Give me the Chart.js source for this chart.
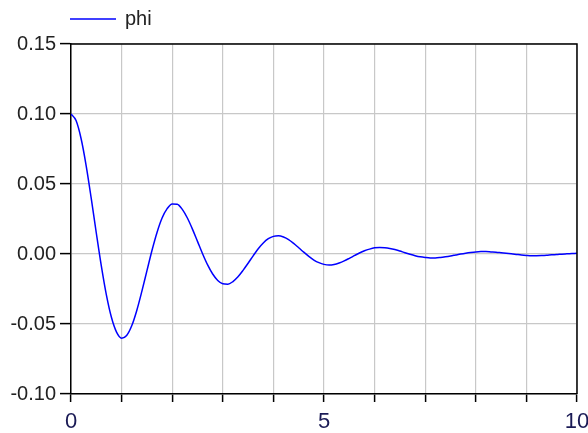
<!DOCTYPE html>
<html>
<head>
<meta charset="utf-8">
<script src="https://cdn.jsdelivr.net/npm/chart.js@4/dist/chart.umd.min.js"></script>
<style>
html,body{margin:0;padding:0;background:#fff;}
#wrap{width:588px;height:433px;}
</style>
</head>
<body>
<div id="wrap"><canvas id="c" width="588" height="433"></canvas></div>
<script>
const seriesName = "phi";
const times = [0,0.1,0.2,0.3,0.4,0.5,0.6,0.7,0.8,0.9,1,1.1,1.2,1.3,1.4,1.5,1.6,1.7,1.8,1.9,2,2.1,2.2,2.3,2.4,2.5,2.6,2.7,2.8,2.9,3,3.1,3.2,3.3,3.4,3.5,3.6,3.7,3.8,3.9,4,4.1,4.2,4.3,4.4,4.5,4.6,4.7,4.8,4.9,5,5.1,5.2,5.3,5.4,5.5,5.6,5.7,5.8,5.9,6,6.1,6.2,6.3,6.4,6.5,6.6,6.7,6.8,6.9,7,7.1,7.2,7.3,7.4,7.5,7.6,7.7,7.8,7.9,8,8.1,8.2,8.3,8.4,8.5,8.6,8.7,8.8,8.9,9,9.1,9.2,9.3,9.4,9.5,9.6,9.7,9.8,9.9,10];
const phi = [0.1000,0.0953,0.0823,0.0630,0.0397,0.0150,-0.0087,-0.0294,-0.0454,-0.0558,-0.0601,-0.0582,-0.0513,-0.0403,-0.0267,-0.0121,0.0025,0.0154,0.0257,0.0324,0.0358,0.0356,0.0319,0.0257,0.0178,0.0090,0.0002,-0.0078,-0.0143,-0.0189,-0.0213,-0.0216,-0.0197,-0.0163,-0.0117,-0.0066,-0.0013,0.0038,0.0079,0.0109,0.0126,0.0130,0.0121,0.0103,0.0076,0.0045,0.0013,-0.0017,-0.0043,-0.0062,-0.0074,-0.0079,-0.0075,-0.0064,-0.0049,-0.0031,-0.0012,0.0007,0.0023,0.0035,0.0044,0.0047,0.0045,0.0040,0.0032,0.0021,0.0009,-0.0002,-0.0012,-0.0020,-0.0025,-0.0028,-0.0028,-0.0025,-0.0020,-0.0014,-0.0007,0.0000,0.0006,0.0011,0.0015,0.0017,0.0017,0.0015,0.0013,0.0009,0.0005,0.0001,-0.0003,-0.0007,-0.0010,-0.0012,-0.0012,-0.0011,-0.0009,-0.0006,-0.0004,-0.0001,0.0001,0.0003,0.0005];
const xLabeled = [0, 5, 10];
const yMin = -0.10, yMax = 0.15, yStep = 0.05;
const xMin = 0, xMax = 10, xStep = 1;

const FONT = "'Liberation Sans', Arial, sans-serif";

const frameAndLegend = {
  id: 'frameAndLegend',
  afterDraw(chart) {
    const ctx = chart.ctx, a = chart.chartArea;
    ctx.save();
    ctx.strokeStyle = '#000';
    ctx.lineWidth = 1.5;
    ctx.beginPath();
    ctx.moveTo(a.left, a.top); ctx.lineTo(a.right, a.top); ctx.lineTo(a.right, a.bottom);
    ctx.stroke();
    // legend
    ctx.strokeStyle = '#0000ff';
    ctx.lineWidth = 1.5;
    ctx.beginPath();
    ctx.moveTo(70, 19); ctx.lineTo(116, 19);
    ctx.stroke();
    ctx.fillStyle = '#222';
    ctx.font = '20px ' + FONT;
    ctx.textBaseline = 'middle';
    ctx.textAlign = 'left';
    ctx.fillText(seriesName, 125, 19);
    ctx.restore();
  }
};

new Chart(document.getElementById('c'), {
  type: 'line',
  data: {
    datasets: [{
      label: seriesName,
      data: times.map((t, i) => ({x: t, y: phi[i]})),
      borderColor: '#0000ff',
      borderWidth: 1.5,
      pointRadius: 0,
      fill: false,
      cubicInterpolationMode: 'monotone'
    }]
  },
  options: {
    responsive: false,
    animation: false,
    layout: {padding: {top: 44, left: 0, right: 11, bottom: 0}},
    plugins: {legend: {display: false}, tooltip: {enabled: false}},
    scales: {
      x: {
        type: 'linear', min: xMin, max: xMax,
        afterFit(s) { s.height = 39; s.paddingLeft = 0; s.paddingRight = 0; },
        border: {color: '#000', width: 1.5},
        grid: {color: '#c8c8c8', lineWidth: 1.2, tickColor: '#000', tickLength: 8, tickWidth: 1.5},
        ticks: {
          stepSize: xStep, autoSkip: false, maxRotation: 0, padding: 7,
          color: '#1a1a55',
          font: {family: FONT, size: 22},
          callback: v => xLabeled.includes(Math.round(v*1000)/1000) ? String(Math.round(v)) : ''
        }
      },
      y: {
        type: 'linear', min: yMin, max: yMax,
        afterFit(s) { s.width = 71; s.paddingTop = 0; s.paddingBottom = 0; },
        border: {color: '#000', width: 1.5},
        grid: {color: '#c8c8c8', lineWidth: 1.2, tickColor: '#000', tickLength: 11, tickWidth: 1.5},
        ticks: {
          stepSize: yStep, padding: 4, color: '#222',
          font: {family: FONT, size: 20},
          callback: v => { const r = Math.round(v*100)/100; return (Math.abs(r) < 1e-9 ? 0 : r).toFixed(2); }
        }
      }
    }
  },
  plugins: [frameAndLegend]
});
</script>
</body>
</html>
